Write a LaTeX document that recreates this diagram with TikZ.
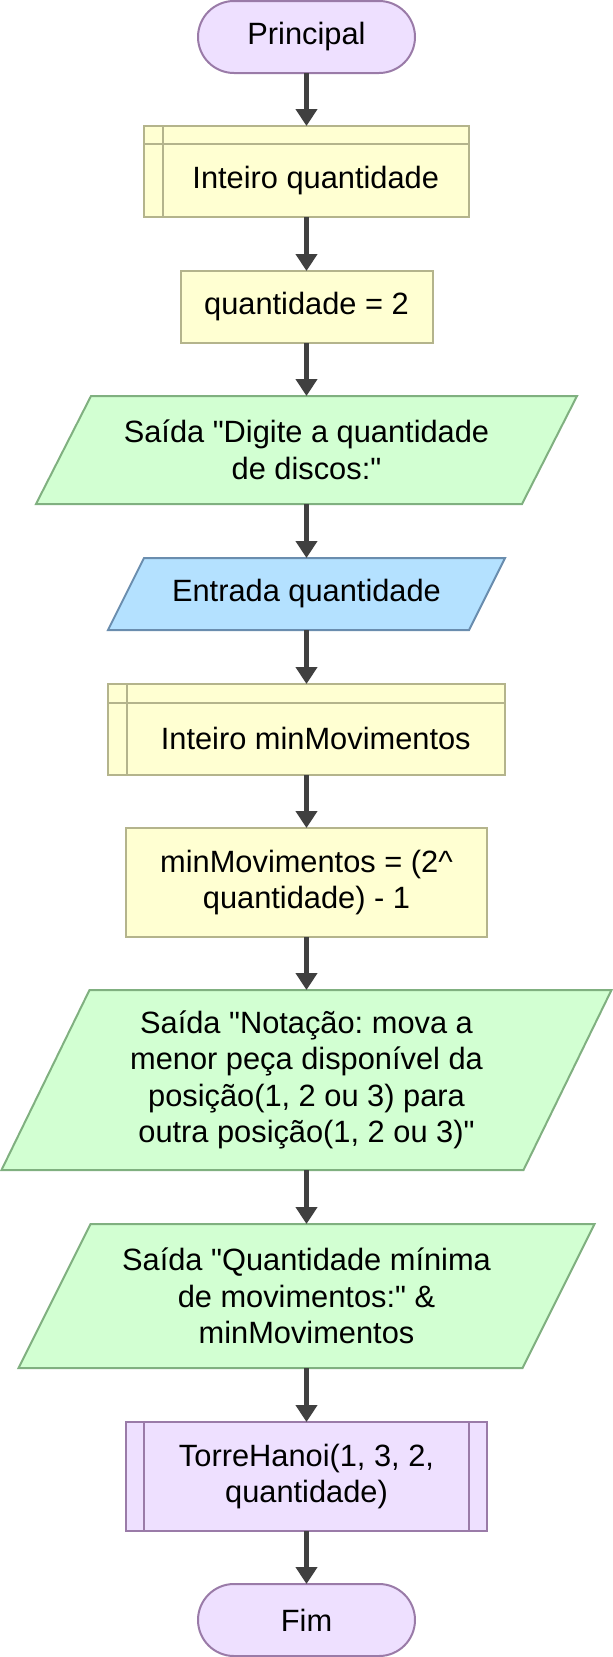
\documentclass[tikz,border=0pt]{standalone}
\usepackage{fontspec}
\setmainfont{Liberation Sans}
\usetikzlibrary{arrows.meta,calc}
\pgfdeclarelayer{bg}
\pgfsetlayers{bg,main}
\definecolor{termfill}{HTML}{EEE0FF}
\definecolor{termline}{HTML}{9A7BA8}
\definecolor{yfill}{HTML}{FFFFD2}
\definecolor{yline}{HTML}{B4B48C}
\definecolor{gfill}{HTML}{D2FFD2}
\definecolor{gline}{HTML}{80B080}
\definecolor{bfill}{HTML}{B4E1FF}
\definecolor{bline}{HTML}{6A8DAE}
\definecolor{arrowc}{HTML}{404040}
\newcommand\qd{\textquotedbl{}}
\newcommand\paragram[3]{%
  \draw[#3] ($(#1.north west)+(#2/2,0)$) -- ($(#1.north east)+(#2/2,0)$) --
    ($(#1.south east)-(#2/2,0)$) -- ($(#1.south west)-(#2/2,0)$) -- cycle;}
\frenchspacing
\begin{document}
\frenchspacing
\begin{tikzpicture}[x=1pt,y=-1pt,
  every node/.style={inner sep=0pt, outer sep=0pt,
    font=\fontsize{30.8}{36.5}\selectfont\frenchspacing, align=center},
  term/.style={draw=termline, fill=termfill, line width=2pt,
    rounded corners=36pt, minimum width=217pt, minimum height=72pt},
  ybox/.style={draw=yline, fill=yfill, line width=2pt},
  callbox/.style={draw=termline, fill=termfill, line width=2pt},
  ioshape/.style={draw=none, fill=none},
  outp/.style={draw=gline, fill=gfill, line width=2pt, line join=miter},
  inp/.style={draw=bline, fill=bfill, line width=2pt, line join=miter},
  inner line/.style={draw=yline, line width=2pt},
  call line/.style={draw=termline, line width=2pt},
  flow/.style={draw=arrowc, line width=5pt, -{Triangle[length=17pt,width=21pt]}}
]
\useasboundingbox (0,0) rectangle (613,1657);

% Principal
\node[term] (prin) at (306.5,37) {Principal};

% Inteiro quantidade (declaration)
\node[ybox, minimum width=325pt, minimum height=91pt] (inq) at (306.5,171.5) {};
\draw[inner line] ($(inq.north west)+(18.5,0)$) -- ($(inq.south west)+(18.5,0)$);
\draw[inner line] ($(inq.north west)+(0,18)$) -- ($(inq.north east)+(0,18)$);
\node (inqt) at (315.75,180.5) {Inteiro quantidade};

% quantidade = 2
\node[ybox, minimum width=252pt, minimum height=72pt] (q2) at (306.5,307) {quantidade = 2};

% Saida Digite
\node[ioshape, minimum width=486pt, minimum height=108pt] (dig) at (306.5,450)
  {Saída \qd Digite a quantidade\\de discos:\qd};

% Entrada quantidade
\node[ioshape, minimum width=361pt, minimum height=72pt] (ent) at (306.5,594)
  {Entrada quantidade};

% Inteiro minMovimentos
\node[ybox, minimum width=397pt, minimum height=91pt] (inm) at (306.5,729.5) {};
\draw[inner line] ($(inm.north west)+(18.5,0)$) -- ($(inm.south west)+(18.5,0)$);
\draw[inner line] ($(inm.north west)+(0,18.5)$) -- ($(inm.north east)+(0,18.5)$);
\node (inmt) at (315.75,738.75) {Inteiro minMovimentos};

% minMovimentos = ...
\node[ybox, minimum width=361pt, minimum height=109pt] (mm) at (306.5,882.5)
  {minMovimentos = (2\textasciicircum\\quantidade) - 1};

% Saida Notacao
\node[ioshape, minimum width=522pt, minimum height=180pt] (nota) at (306.5,1080)
  {Saída \qd Notação: mova a\\menor peça disponível da\\posição(1, 2 ou 3) para\\outra posição(1, 2 ou 3)\qd};

% Saida Quantidade minima
\node[ioshape, minimum width=504pt, minimum height=144pt] (quan) at (306.5,1296)
  {Saída \qd Quantidade mínima\\de movimentos:\qd{} \&\\minMovimentos};

% TorreHanoi call
\node[callbox, minimum width=361pt, minimum height=109pt] (torre) at (306.5,1476.5) {};
\draw[call line] ($(torre.north west)+(18,0)$) -- ($(torre.south west)+(18,0)$);
\draw[call line] ($(torre.north east)-(18,0)$) -- ($(torre.south east)-(18,0)$);
\node (torret) at (306.5,1476.5) {TorreHanoi(1, 3, 2,\\quantidade)};

% Fim
\node[term] (fim) at (306.5,1620) {Fim};

\begin{pgfonlayer}{bg}
  \paragram{dig}{55}{outp}
  \paragram{ent}{36}{inp}
  \paragram{nota}{88}{outp}
  \paragram{quan}{72}{outp}
\end{pgfonlayer}

% connectors
\draw[flow] (prin.south) -- (inq.north);
\draw[flow] (inq.south) -- (q2.north);
\draw[flow] (q2.south) -- (dig.north);
\draw[flow] (dig.south) -- (ent.north);
\draw[flow] (ent.south) -- (inm.north);
\draw[flow] (inm.south) -- (mm.north);
\draw[flow] (mm.south) -- (nota.north);
\draw[flow] (nota.south) -- (quan.north);
\draw[flow] (quan.south) -- (torre.north);
\draw[flow] (torre.south) -- (fim.north);
\end{tikzpicture}
\end{document}
